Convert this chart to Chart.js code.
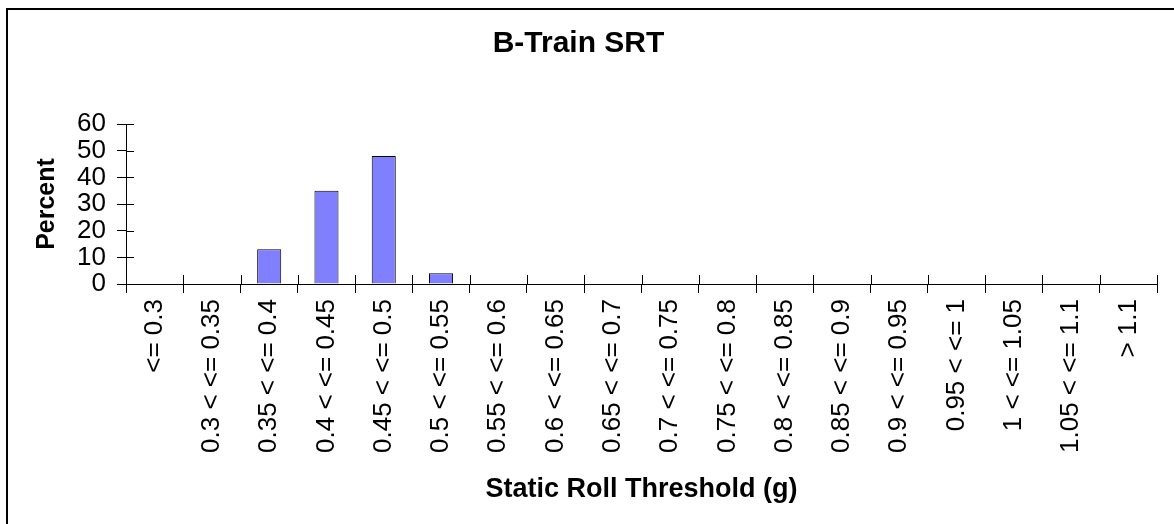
<!DOCTYPE html>
<html>
<head>
<meta charset="utf-8">
<script src="https://cdn.jsdelivr.net/npm/chart.js@4"></script>
<style>
  html, body { margin: 0; padding: 0; background: #fff; }
  #wrap { width: 1174px; height: 524px; position: relative; }
</style>
</head>
<body>
<div id="wrap"><canvas id="chart" width="1174" height="524"></canvas></div>
<script>
const categories = [
  "<= 0.3", "0.3 < <= 0.35", "0.35 < <= 0.4", "0.4 < <= 0.45", "0.45 < <= 0.5",
  "0.5 < <= 0.55", "0.55 < <= 0.6", "0.6 < <= 0.65", "0.65 < <= 0.7", "0.7 < <= 0.75",
  "0.75 < <= 0.8", "0.8 < <= 0.85", "0.85 < <= 0.9", "0.9 < <= 0.95", "0.95 < <= 1",
  "1 < <= 1.05", "1.05 < <= 1.1", "> 1.1"
];
const percent = [0, 0, 13, 35, 48, 4, 0, 0, 0, 0, 0, 0, 0, 0, 0, 0, 0, 0];
const yTicks = [0, 10, 20, 30, 40, 50, 60];

const FONT = "Arial, 'Liberation Sans', sans-serif";

// frame round the chart + tick marks that cross the axis lines
const extras = {
  id: "extras",
  beforeDraw(chart) {
    const ctx = chart.ctx;
    ctx.save();
    ctx.fillStyle = "#fff";
    ctx.fillRect(0, 0, chart.width, chart.height);
    ctx.strokeStyle = "#000";
    ctx.lineWidth = 2;
    ctx.strokeRect(7, 9, chart.width + 20, chart.height + 20);
    ctx.restore();
  },
  afterDraw(chart) {
    const ctx = chart.ctx;
    const x = chart.scales.x, y = chart.scales.y;
    ctx.save();
    ctx.strokeStyle = "#000";
    ctx.lineWidth = 1;
    ctx.beginPath();
    y.ticks.forEach((t, i) => {
      const py = Math.round(y.getPixelForTick(i)) + 0.5;
      ctx.moveTo(x.left, py);
      ctx.lineTo(x.left + 8, py);
    });
    for (let i = 0; i <= categories.length; i++) {
      const px = Math.round(x.getPixelForValue(i - 0.5)) + 0.5;
      ctx.moveTo(px, y.bottom);
      ctx.lineTo(px, y.bottom - 9);
    }
    ctx.stroke();
    ctx.restore();
  }
};

new Chart(document.getElementById("chart"), {
  type: "bar",
  data: {
    labels: categories,
    datasets: [{
      label: "Percent",
      data: percent,
      backgroundColor: "#8080FF",
      borderColor: "#000",
      borderWidth: 1,
      barPercentage: 0.42,
      categoryPercentage: 1
    }]
  },
  options: {
    responsive: false,
    animation: false,
    layout: { padding: { top: 0, right: 17, bottom: 0, left: 0 } },
    plugins: {
      legend: { display: false },
      tooltip: { enabled: false },
      title: {
        display: true,
        text: "B-Train SRT",
        color: "#000",
        font: { family: FONT, size: 30, weight: "bold" },
        padding: { top: 26, bottom: 62 }
      }
    },
    scales: {
      x: {
        grid: { drawOnChartArea: false, color: "#000", tickLength: 9, offset: true },
        border: { color: "#000", width: 1 },
        ticks: {
          color: "#000",
          font: { family: FONT, size: 26 },
          minRotation: 90,
          maxRotation: 90,
          autoSkip: false,
          padding: 6
        },
        title: {
          display: true,
          text: "Static Roll Threshold (g)",
          color: "#000",
          font: { family: FONT, size: 27, weight: "bold" },
          padding: { top: 4, bottom: 18 }
        },
        afterFit(scale) { scale.height = 240; }
      },
      y: {
        min: 0,
        max: 60,
        afterBuildTicks(scale) { scale.ticks = yTicks.map(v => ({ value: v })); },
        grid: { drawOnChartArea: false, color: "#000", tickLength: 9 },
        border: { color: "#000", width: 1 },
        ticks: {
          color: "#000",
          font: { family: FONT, size: 26, lineHeight: 1 },
          autoSkip: false,
          padding: 11
        },
        title: {
          display: true,
          text: "Percent",
          color: "#000",
          font: { family: FONT, size: 25, weight: "bold" },
          padding: { top: 32, bottom: 0 }
        },
        afterFit(scale) { scale.width = 126; }
      }
    }
  },
  plugins: [extras]
});
</script>
</body>
</html>
